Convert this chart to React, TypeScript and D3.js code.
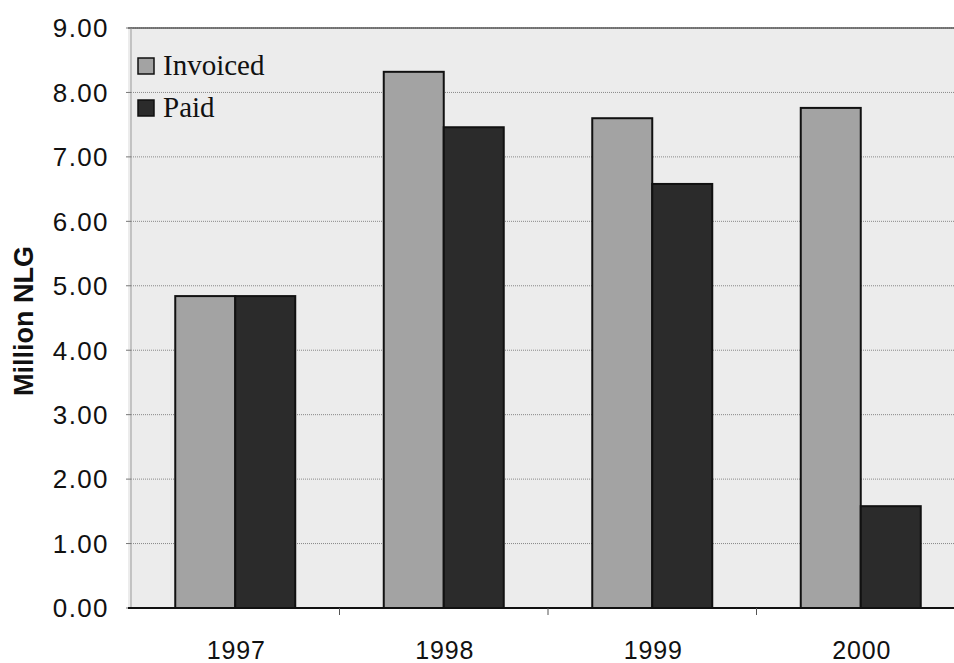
import React from "react";
import * as d3 from "d3";

const years = ["1997", "1998", "1999", "2000"];
const invoiced = [4.84, 8.32, 7.6, 7.76];
const paid = [4.84, 7.46, 6.58, 1.58];
const yTicks = [0, 1, 2, 3, 4, 5, 6, 7, 8, 9];
const seriesNames = ["Invoiced", "Paid"];

export default function App() {
  const W = 954, H = 663;
  const left = 131, right = 965, top = 28, bottom = 608;
  const x = d3.scaleBand().domain(years).range([left, right]).paddingInner(0).paddingOuter(0);
  const y = d3.scaleLinear().domain([0, 9]).range([bottom, top]);
  const barW = 60;
  const colors = ["#a3a3a3", "#2b2b2b"];
  const series = [invoiced, paid];
  return (
    <svg width={W} height={H} style={{ position: "absolute", left: 0, top: 0, background: "#fff" }}>
      <rect x={left - 3} y={top} width={W - left + 3} height={bottom - top} fill="#ececec" />
      {yTicks.map((t) => (
        <line key={"g" + t} x1={left} x2={W} y1={y(t)} y2={y(t)} stroke="#888" strokeWidth={1} strokeDasharray="1,1" />
      ))}
      <line x1={left - 3} x2={W} y1={top} y2={top} stroke="#555" strokeWidth={1.5} />
      <line x1={left} x2={left} y1={top} y2={bottom} stroke="#999" strokeWidth={1} />
      {yTicks.map((t) => (
        <g key={"t" + t}>
          <line x1={left - 5} x2={left} y1={y(t)} y2={y(t)} stroke="#777" />
          <text x={109} y={y(t)} dy="0.36em" textAnchor="end" fontFamily="Liberation Sans, Arial" fontSize={26} letterSpacing={1.4} fill="#111">
            {t.toFixed(2)}
          </text>
        </g>
      ))}
      {years.map((yr, i) =>
        series.map((s, k) => {
          const cx = (x(yr) as number) + x.bandwidth() / 2;
          const bx = cx - barW + k * barW;
          return (
            <rect key={yr + k} x={bx} y={y(s[i])} width={barW} height={bottom - y(s[i])} fill={colors[k]} stroke="#111" strokeWidth={2} />
          );
        })
      )}
      <line x1={left - 3} x2={W} y1={bottom} y2={bottom} stroke="#111" strokeWidth={2} />
      {years.slice(1).map((yr) => (
        <line key={"xt" + yr} x1={x(yr) as number} x2={x(yr) as number} y1={bottom} y2={bottom + 7} stroke="#555" />
      ))}
      {years.map((yr) => (
        <text key={"xl" + yr} x={(x(yr) as number) + x.bandwidth() / 2 + 1} y={659} textAnchor="middle" fontFamily="Liberation Sans, Arial" fontSize={25} letterSpacing={0.8} fill="#111">
          {yr}
        </text>
      ))}
      <text transform={`translate(33,321) rotate(-90)`} textAnchor="middle" fontFamily="Liberation Sans, Arial" fontWeight="bold" fontSize={27} fill="#111">
        Million NLG
      </text>
      {seriesNames.map((n, k) => (
        <g key={n}>
          <rect x={138} y={58 + k * 42} width={16} height={16} fill={colors[k]} stroke="#111" strokeWidth={1.5} />
          <text x={163} y={75 + k * 42} fontFamily="Liberation Serif, Times New Roman" fontSize={29} fill="#111">
            {n}
          </text>
        </g>
      ))}
    </svg>
  );
}
